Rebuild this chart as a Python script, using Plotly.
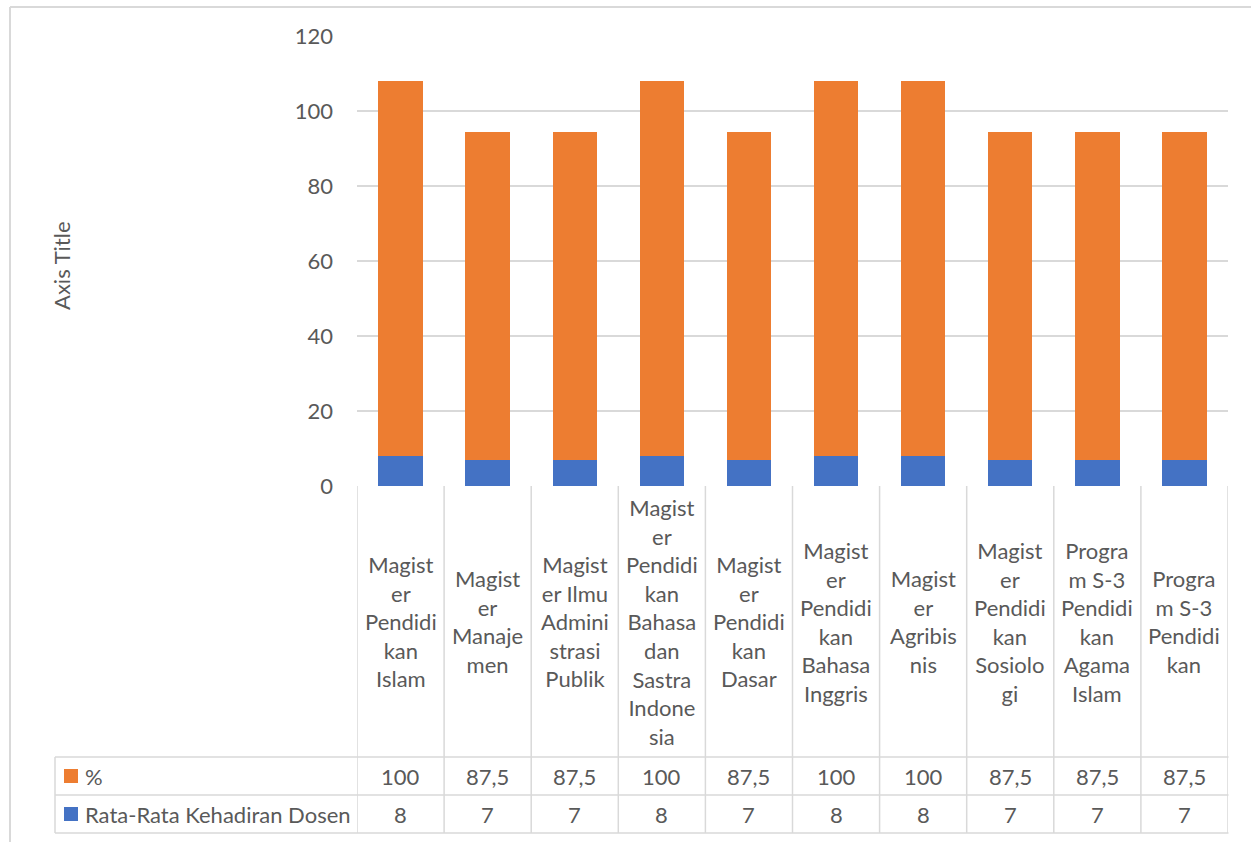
import plotly.graph_objects as go

# category labels (wrapped as in the data table header)
categories = [
    "Magist<br>er<br>Pendidi<br>kan<br>Islam",
    "Magist<br>er<br>Manaje<br>men",
    "Magist<br>er Ilmu<br>Admini<br>strasi<br>Publik",
    "Magist<br>er<br>Pendidi<br>kan<br>Bahasa<br>dan<br>Sastra<br>Indone<br>sia",
    "Magist<br>er<br>Pendidi<br>kan<br>Dasar",
    "Magist<br>er<br>Pendidi<br>kan<br>Bahasa<br>Inggris",
    "Magist<br>er<br>Agribis<br>nis",
    "Magist<br>er<br>Pendidi<br>kan<br>Sosiolo<br>gi",
    "Progra<br>m S-3<br>Pendidi<br>kan<br>Agama<br>Islam",
    "Progra<br>m S-3<br>Pendidi<br>kan",
]
kehadiran = [8, 7, 7, 8, 7, 8, 8, 7, 7, 7]
persen = [100, 87.5, 87.5, 100, 87.5, 100, 100, 87.5, 87.5, 87.5]
y_ticks = [0, 20, 40, 60, 80, 100, 120]

BLUE = "#4472C4"
ORANGE = "#ED7D31"
GRID = "#d9d9d9"
TXT = "#595959"
FONT = "Lato"

W, H = 1251, 842


def py(px):
    return 1 - px / H


def fmt(v):
    return f"{v:g}".replace(".", ",")


x_idx = list(range(len(categories)))

fig = go.Figure()
fig.add_trace(go.Bar(x=x_idx, y=kehadiran, name="Rata-Rata Kehadiran Dosen",
                     marker=dict(color=BLUE, line_width=0)))
fig.add_trace(go.Bar(x=x_idx, y=persen, name="%",
                     marker=dict(color=ORANGE, line_width=0)))

# table geometry (pixels)
top_hdr, row1, row2, row3 = 486, 757, 795, 833
left_tbl = 55
n = len(categories)

shapes = []
line = dict(color=GRID, width=1.5)
# vertical column lines
for i in range(n + 1):
    shapes.append(dict(type="line", xref="x", yref="paper", x0=i - 0.5, x1=i - 0.5,
                       y0=py(top_hdr), y1=py(row3), line=line))
# horizontal row lines
for yy in (row1, row2, row3):
    shapes.append(dict(type="line", xref="paper", yref="paper", x0=left_tbl / W, x1=1228.5 / W,
                       y0=py(yy), y1=py(yy), line=line))
shapes.append(dict(type="line", xref="paper", yref="paper", x0=left_tbl / W, x1=left_tbl / W,
                   y0=py(row1), y1=py(row3), line=line))
# outer chart border (cropped)
shapes.append(dict(type="line", xref="paper", yref="paper", x0=10 / W, x1=10 / W,
                   y0=0, y1=py(7), line=dict(color=GRID, width=2)))
shapes.append(dict(type="line", xref="paper", yref="paper", x0=10 / W, x1=1,
                   y0=py(7), y1=py(7), line=dict(color=GRID, width=2)))
# legend keys
for yc, col in (((row1 + row2) / 2, ORANGE), ((row2 + row3) / 2, BLUE)):
    shapes.append(dict(type="rect", xref="paper", yref="paper", x0=64 / W, x1=78 / W,
                       y0=py(yc + 7), y1=py(yc - 7), fillcolor=col, line_width=0))

annotations = []
fnt = dict(family=FONT, size=22, color=TXT)
for i, cat in enumerate(categories):
    annotations.append(dict(x=i, y=py((top_hdr + row1) / 2), xref="x", yref="paper",
                            text=cat, showarrow=False, font=fnt, align="center",
                            yanchor="middle"))
    annotations.append(dict(x=i, y=py((row1 + row2) / 2), xref="x", yref="paper",
                            text=fmt(persen[i]), showarrow=False, font=fnt,
                            yanchor="middle"))
    annotations.append(dict(x=i, y=py((row2 + row3) / 2), xref="x", yref="paper",
                            text=fmt(kehadiran[i]), showarrow=False, font=fnt,
                            yanchor="middle"))
annotations.append(dict(x=83 / W, y=py((row1 + row2) / 2), xref="paper", yref="paper",
                        text="%", showarrow=False, font=fnt, xanchor="left",
                        yanchor="middle"))
annotations.append(dict(x=83 / W, y=py((row2 + row3) / 2), xref="paper", yref="paper",
                        text="Rata-Rata Kehadiran Dosen", showarrow=False, font=fnt,
                        xanchor="left", yanchor="middle"))
annotations.append(dict(x=62 / W, y=py(266), xref="paper", yref="paper",
                        text="Axis Title", showarrow=False, textangle=-90,
                        xanchor="center", yanchor="middle",
                        font=dict(family=FONT, size=22, color=TXT)))

fig.update_layout(
    width=W, height=H,
    barmode="stack",
    bargap=0.49,
    showlegend=False,
    plot_bgcolor="white",
    paper_bgcolor="white",
    margin=dict(l=0, r=0, t=0, b=0, autoexpand=False),
    font=dict(family=FONT, color=TXT),
    xaxis=dict(domain=[357 / W, 1228 / W], range=[-0.5, n - 0.5],
               showticklabels=False, showgrid=False, zeroline=False,
               fixedrange=True),
    yaxis=dict(domain=[py(486), py(36)], range=[0, 120], tickvals=y_ticks,
               showgrid=True, gridcolor=GRID, gridwidth=1.5, zeroline=False,
               ticks="", ticklabelstandoff=23,
               tickfont=dict(family=FONT, size=22, color=TXT)),
    shapes=shapes,
    annotations=annotations,
)

fig.write_html("out.html", config={"displayModeBar": False},
               post_script="document.body.style.margin='0';")
